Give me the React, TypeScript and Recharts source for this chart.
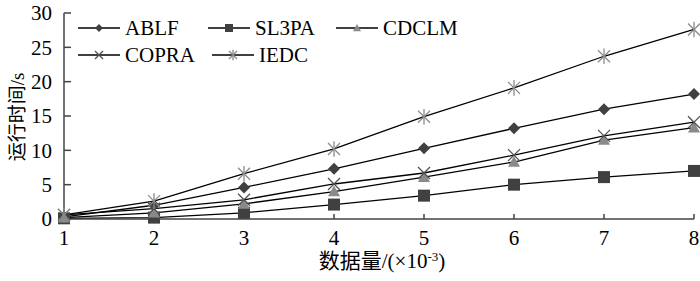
import React from "react";
import { CartesianGrid, Legend, Line, LineChart, XAxis, YAxis } from "recharts";

const sizes = [1, 2, 3, 4, 5, 6, 7, 8];
const ablf = [0.3, 2.0, 4.6, 7.3, 10.3, 13.2, 16.0, 18.2];
const sl3pa = [0.1, 0.2, 0.9, 2.1, 3.4, 5.0, 6.1, 7.0];
const cdclm = [0.2, 0.9, 2.2, 4.0, 6.1, 8.3, 11.5, 13.3];
const copra = [0.6, 1.5, 2.8, 5.1, 6.7, 9.3, 12.1, 14.1];
const iedc = [0.6, 2.6, 6.6, 10.2, 14.9, 19.1, 23.7, 27.6];
const yTicks = [0, 5, 10, 15, 20, 25, 30];

const data = sizes.map((x, i) => ({
  x,
  ABLF: ablf[i],
  SL3PA: sl3pa[i],
  CDCLM: cdclm[i],
  COPRA: copra[i],
  IEDC: iedc[i],
}));

const LATIN = "'Liberation Serif'";
const FONT = "'Liberation Serif', 'Noto Sans CJK SC'";

type Kind = "diamond" | "square" | "triangle" | "cross" | "star";

function marker(kind: Kind, cx: number, cy: number, r: number, key?: string) {
  switch (kind) {
    case "diamond":
      return (
        <polygon key={key} points={`${cx},${cy - r} ${cx + r},${cy} ${cx},${cy + r} ${cx - r},${cy}`} fill="#404040" />
      );
    case "square":
      return <rect key={key} x={cx - r} y={cy - r} width={r * 2} height={r * 2} fill="#404040" />;
    case "triangle":
      return (
        <polygon key={key} points={`${cx},${cy - r} ${cx + r},${cy + r * 0.8} ${cx - r},${cy + r * 0.8}`} fill="#8a8a8a" />
      );
    case "cross":
      return (
        <g key={key} stroke="#505050" strokeWidth={1.3}>
          <line x1={cx - r} y1={cy - r} x2={cx + r} y2={cy + r} />
          <line x1={cx - r} y1={cy + r} x2={cx + r} y2={cy - r} />
        </g>
      );
    default:
      return (
        <g key={key} stroke="#8a8a8a" strokeWidth={1.3}>
          <line x1={cx - r} y1={cy - r} x2={cx + r} y2={cy + r} />
          <line x1={cx - r} y1={cy + r} x2={cx + r} y2={cy - r} />
          <line x1={cx} y1={cy - r * 1.3} x2={cx} y2={cy + r * 1.3} />
        </g>
      );
  }
}

const series: { key: string; kind: Kind; left: number; top: number }[] = [
  { key: "ABLF", kind: "diamond", left: 78, top: 28 },
  { key: "SL3PA", kind: "square", left: 208, top: 28 },
  { key: "CDCLM", kind: "triangle", left: 336, top: 28 },
  { key: "COPRA", kind: "cross", left: 78, top: 55 },
  { key: "IEDC", kind: "star", left: 212, top: 55 },
];

function LegendBox() {
  return (
    <div style={{ position: "relative", width: 700, height: 80 }}>
      {series.map((s) => (
        <div
          key={s.key}
          style={{
            position: "absolute",
            left: s.left,
            top: s.top - 12,
            height: 24,
            display: "flex",
            alignItems: "center",
            fontFamily: LATIN,
            fontSize: 21,
            color: "#000",
          }}
        >
          <svg width={42} height={16}>
            <line x1={0} y1={8} x2={42} y2={8} stroke="#000" strokeWidth={1.3} />
            {marker(s.kind, 21, 8, 4)}
          </svg>
          <span style={{ marginLeft: 5 }}>{s.key}</span>
        </div>
      ))}
    </div>
  );
}

export default function App() {
  return (
    <div style={{ position: "absolute", left: 0, top: 0, width: 700, height: 281, background: "#fff" }}>
      <LineChart width={700} height={281} data={data} margin={{ top: 13, right: 6, left: 0, bottom: 0 }}>
        <CartesianGrid stroke="none" />
        <XAxis
          dataKey="x"
          type="number"
          domain={[1, 8]}
          ticks={sizes}
          height={62}
          stroke="#444"
          strokeWidth={1.5}
          tickSize={-5}
          tickMargin={16}
          tick={{ fill: "#000", fontSize: 21, fontFamily: LATIN }}
          label={{
            content: () => (
              <text x={382} y={268} textAnchor="middle" fontFamily={FONT} fontSize={21} fill="#000">
                数据量/(×10
                <tspan dy={-7} fontSize={13}>-3</tspan>
                <tspan dy={7}>)</tspan>
              </text>
            ),
          }}
        />
        <YAxis
          domain={[0, 30]}
          ticks={yTicks}
          width={64}
          stroke="#444"
          strokeWidth={1.5}
          tickSize={-7}
          tickMargin={19}
          tick={{ fill: "#000", fontSize: 21, fontFamily: LATIN }}
          label={{
            content: () => (
              <text
                x={24}
                y={117}
                textAnchor="middle"
                transform="rotate(-90 24 117)"
                fontFamily={FONT}
                fontSize={19}
                fill="#000"
              >
                运行时间/s
              </text>
            ),
          }}
        />
        <Legend
          layout="horizontal"
          verticalAlign="middle"
          align="center"
          wrapperStyle={{ top: 0, left: 0, width: 700 }}
          content={() => <LegendBox />}
        />
        {series.map((s) => (
          <Line
            key={s.key}
            dataKey={s.key}
            stroke="#000"
            strokeWidth={1.3}
            isAnimationActive={false}
            dot={(p: any) => marker(s.kind, p.cx, p.cy, 6, `${s.key}-${p.index}`)}
            activeDot={false}
          />
        ))}
      </LineChart>
    </div>
  );
}
